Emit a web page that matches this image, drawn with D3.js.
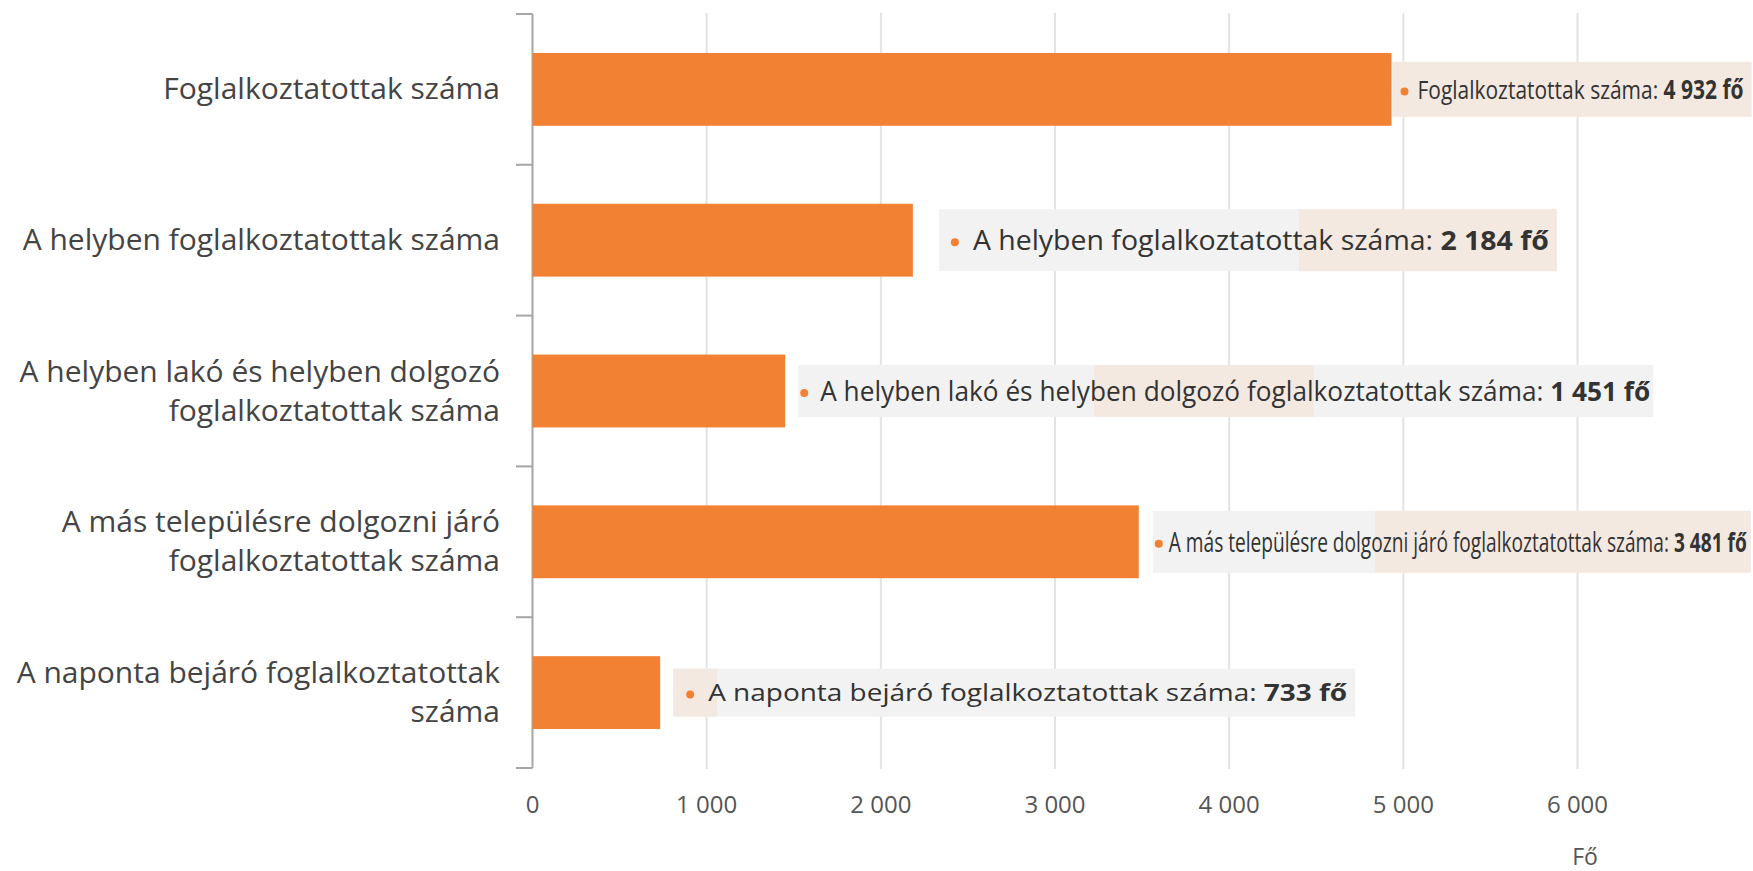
<!DOCTYPE html>
<html>
<head>
<meta charset="utf-8">
<script src="https://cdn.jsdelivr.net/npm/d3@7"></script>
<style>
  body { margin: 0; background: #fff; }
  svg { display: block; font-family: "Open Sans", sans-serif; }
</style>
</head>
<body>
<div class="employment-chart"></div>
<script>
const categories = [
    "Foglalkoztatottak száma",
    "A helyben foglalkoztatottak száma",
    "A helyben lakó és helyben dolgozó foglalkoztatottak száma",
    "A más településre dolgozni járó foglalkoztatottak száma",
    "A naponta bejáró foglalkoztatottak száma"
];
const categoryLines = [
    ["Foglalkoztatottak száma"],
    ["A helyben foglalkoztatottak száma"],
    ["A helyben lakó és helyben dolgozó", "foglalkoztatottak száma"],
    ["A más településre dolgozni járó", "foglalkoztatottak száma"],
    ["A naponta bejáró foglalkoztatottak", "száma"]
];
const values = [4932, 2184, 1451, 3481, 733];
const xTicks = [0, 1000, 2000, 3000, 4000, 5000, 6000];
const unitLabel = "Fő";

// label boxes (layout only)
const labelDx = [1, 26, 13, 14, 13];
const labelBoxW = [359, 618, 855, 598, 682];
const labelBoxH = [55, 62, 52, 62, 48];
const labelFont = [26, 27, 27, 27, 24];
const labelDot = [12, 16, 6, 6, 17];
const labelTextX = [25, 34, 22, 16, 35];
const labelTextW = [326, 576, 830, 578, 639];
const labelPeach = [[0, 359], [360, 618], [296, 516], [222, 598], [0, 44]];

const width = 1753;
const height = 871;
const orange = "#f38133";

const svg = d3.select('.employment-chart')
    .append('svg')
    .attr('width', width)
    .attr('height', height);

const loc = d3.formatLocale({decimal: ",", thousands: " ", grouping: [3], currency: ["", ""]});
const fmt = loc.format(",d");

const x = d3.scaleLinear().domain([0, 6000]).range([532.5, 1577.5]);
const y = d3.scaleBand()
    .domain(categories)
    .range([13, 769])
    .paddingInner(0.517)
    .paddingOuter(0.265);

// gridlines
svg.append("g")
    .selectAll("line")
    .data(xTicks.slice(1))
    .enter()
    .append("line")
    .attr("x1", d => x(d))
    .attr("x2", d => x(d))
    .attr("y1", 13)
    .attr("y2", 769)
    .attr("stroke", "#e3e3e3")
    .attr("stroke-width", 2);

// x tick labels
svg.append("g")
    .selectAll("text")
    .data(xTicks)
    .enter()
    .append("text")
    .attr("x", d => x(d))
    .attr("y", 813)
    .attr("text-anchor", "middle")
    .attr("font-size", 24)
    .attr("fill", "#555")
    .text(d => fmt(d));

svg.append("text")
    .attr("x", 1585)
    .attr("y", 865)
    .attr("text-anchor", "middle")
    .attr("font-size", 23)
    .attr("fill", "#555")
    .text(unitLabel);

// category axis line + ticks between bands
const step = y.step();
const bounds = categories.map(c => y(c) - step * y.paddingInner() / 2);
bounds.push(y(categories[categories.length - 1]) + y.bandwidth() + step * y.paddingInner() / 2);

svg.append("line")
    .attr("x1", 532.5).attr("x2", 532.5)
    .attr("y1", bounds[0]).attr("y2", bounds[bounds.length - 1])
    .attr("stroke", "#a6a6a6")
    .attr("stroke-width", 2);

svg.append("g")
    .selectAll("line")
    .data(bounds)
    .enter()
    .append("line")
    .attr("x1", 516).attr("x2", 532.5)
    .attr("y1", d => d).attr("y2", d => d)
    .attr("stroke", "#a6a6a6")
    .attr("stroke-width", 2);

// category labels
const catText = svg.append("g")
    .selectAll("text")
    .data(categories)
    .enter()
    .append("text")
    .attr("text-anchor", "end")
    .attr("font-size", 30)
    .attr("fill", "#444");

catText.each(function(d, i) {
    const lines = categoryLines[i];
    const cy = y(d) + y.bandwidth() / 2;
    const lh = 39;
    const y0 = cy - (lines.length - 1) * lh / 2 + 10;
    lines.forEach((ln, j) => {
        d3.select(this).append("tspan")
            .attr("x", 500)
            .attr("y", y0 + j * lh)
            .text(ln);
    });
});

// bars
svg.selectAll(".bar")
    .data(values)
    .enter()
    .append("rect")
    .attr("class", "bar")
    .attr("x", x(0))
    .attr("y", (d, i) => y(categories[i]))
    .attr("width", d => x(d) - x(0))
    .attr("height", y.bandwidth())
    .attr("fill", orange);

// data labels
const labels = svg.append("g")
    .selectAll("g")
    .data(values)
    .enter()
    .append("g")
    .attr("transform", (d, i) => {
        const bx = x(d) + labelDx[i];
        const by = y(categories[i]) + y.bandwidth() / 2 - labelBoxH[i] / 2;
        return `translate(${bx},${by})`;
    });

labels.append("rect")
    .attr("width", (d, i) => labelBoxW[i])
    .attr("height", (d, i) => labelBoxH[i])
    .attr("fill", "#f2f2f2");

labels.append("rect")
    .attr("x", (d, i) => labelPeach[i][0])
    .attr("width", (d, i) => labelPeach[i][1] - labelPeach[i][0])
    .attr("height", (d, i) => labelBoxH[i])
    .attr("fill", "#f4e9e1");

labels.append("circle")
    .attr("cx", (d, i) => labelDot[i])
    .attr("cy", (d, i) => labelBoxH[i] / 2 + 2)
    .attr("r", 4)
    .attr("fill", orange);

const lt = labels.append("text")
    .attr("x", (d, i) => labelTextX[i])
    .attr("y", (d, i) => labelBoxH[i] / 2 + labelFont[i] * 0.36)
    .attr("font-size", (d, i) => labelFont[i])
    .attr("fill", "#333")
    .attr("textLength", (d, i) => labelTextW[i])
    .attr("lengthAdjust", "spacingAndGlyphs");

lt.append("tspan").text((d, i) => categories[i] + ": ");
lt.append("tspan")
    .attr("font-weight", "bold")
    .text(d => fmt(d) + " fő");
</script>
</body>
</html>
